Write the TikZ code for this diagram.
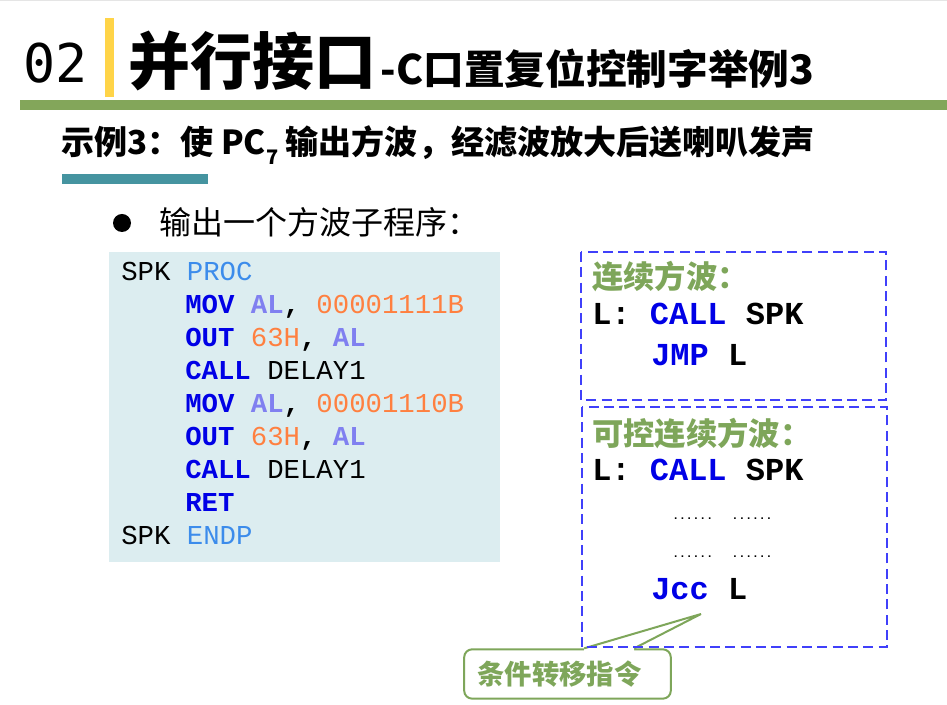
\documentclass[tikz,border=0pt]{standalone}
\usepackage{fontspec}
\setmainfont{Noto Sans CJK SC}
\newfontfamily\codefont{Liberation Mono}
\newfontfamily\numfont{DejaVu Sans Mono}
\usetikzlibrary{positioning,calc}

\definecolor{barGreen}{RGB}{131,166,90}
\definecolor{barTeal}{RGB}{69,148,160}
\definecolor{barYellow}{RGB}{255,212,72}
\definecolor{codeBg}{RGB}{220,237,240}
\definecolor{kwBlue}{RGB}{0,0,230}
\definecolor{regBlue}{RGB}{128,128,240}
\definecolor{numOrange}{RGB}{255,128,64}
\definecolor{dirBlue}{RGB}{60,140,235}
\definecolor{boxBlue}{RGB}{64,64,250}
\definecolor{noteGreen}{RGB}{126,166,90}

\newcommand\ckw[1]{\textcolor{kwBlue}{\bfseries #1}}
\newcommand\creg[1]{\textcolor{regBlue}{\bfseries #1}}
\newcommand\cnum[1]{\textcolor{numOrange}{#1}}
\newcommand\cdir[1]{\textcolor{dirBlue}{#1}}

\tikzset{
  codeline/.style={anchor=base west, inner sep=0, font=\codefont\fontsize{20.5}{20.5}\selectfont},
  boxline/.style={anchor=base west, inner sep=0, font=\codefont\bfseries\fontsize{24}{24}\selectfont},
  dotline/.style={anchor=base west, inner sep=0, font=\codefont\bfseries\fontsize{8.5}{8.5}\selectfont},
  head/.style={anchor=base west, inner sep=0, text=noteGreen, font=\bfseries\fontsize{23.5}{23.5}\selectfont},
  dashbox/.style={draw=boxBlue, line width=1.5pt, dash pattern=on 7.5pt off 4pt},
  callout/.style={draw=noteGreen, line width=1.5pt, fill=white, rounded corners=6pt, text=noteGreen,
    minimum width=155pt, minimum height=37pt, font=\bfseries\fontsize{20.5}{20.5}\selectfont},
}

\begin{document}
\begin{tikzpicture}[x=0.75pt, y=-0.75pt]
  \useasboundingbox (0,0) rectangle (947,705);
  \draw[gray!20, line width=1pt] (0,0.7) -- (947,0.7);

  \node[anchor=base west, inner sep=0, font=\numfont\fontsize{40}{40}\selectfont] (num) at (23,83) {02};
  \fill[barYellow] (105,18) rectangle (114,97);
  \node[anchor=base west, inner sep=0, font=\bfseries\fontsize{46.5}{46.5}\selectfont] (title) at (128,85) {并行接口};
  \node[anchor=base west, inner sep=0, font=\bfseries\fontsize{30.5}{30.5}\selectfont] (titleb) at ($(title.base east)+(4,0)$) {-C口置复位控制字举例3};
  \fill[barGreen] (20,100) rectangle (947,110);

  \node[anchor=base west, inner sep=0, font=\bfseries\fontsize{24.8}{24.8}\selectfont] (sub) at (61,155)
    {示例3：使 PC\raisebox{-0.3em}{\fontsize{15}{15}\selectfont 7} 输出方波，经滤波放大后送喇叭发声};
  \fill[barTeal] (62,174) rectangle (208,184);

  \node[circle, fill=black, minimum size=13.5pt, inner sep=0] (dot) at (122,223) {};
  \node[anchor=base west, inner sep=0, font=\fontsize{24}{24}\selectfont] (item) at (159,235) {输出一个方波子程序：};

  \fill[codeBg] (109,252) rectangle (500,562);
  \node[codeline] (c1) at (121,281) {SPK \cdir{PROC}};
  \node[codeline] (c2) at (185,314) {\ckw{MOV} \creg{AL}\textbf{,} \cnum{00001111B}};
  \node[codeline] (c3) at (185,347) {\ckw{OUT} \cnum{63H}\textbf{,} \creg{AL}};
  \node[codeline] (c4) at (185,380) {\ckw{CALL} DELAY1};
  \node[codeline] (c5) at (185,413) {\ckw{MOV} \creg{AL}\textbf{,} \cnum{00001110B}};
  \node[codeline] (c6) at (185,446) {\ckw{OUT} \cnum{63H}\textbf{,} \creg{AL}};
  \node[codeline] (c7) at (185,479) {\ckw{CALL} DELAY1};
  \node[codeline] (c8) at (185,512) {\ckw{RET}};
  \node[codeline] (c9) at (121,545) {SPK \cdir{ENDP}};

  \node[callout] (cond) at (567.5,674) {条件转移指令\kern12pt};
  \coordinate (tip) at (701,614);
  \coordinate (wa) at ($(cond.north west)+(121,0)$);
  \coordinate (wb) at ($(cond.north west)+(171,0)$);
  \fill[white] (wa) -- (tip) -- (wb) -- ($(wb)+(0,3)$) -- ($(wa)+(0,3)$) -- cycle;
  \draw[noteGreen, line width=1.5pt] (wa) -- (tip) -- (wb);

  \draw[dashbox] (581,252) rectangle (886,400);
  \node[head] (h1) at (592,289) {连续方波：};
  \node[boxline] (l1) at (592,325) {L: \textcolor{kwBlue}{CALL} SPK};
  \node[boxline] (l2) at (651,366) {\textcolor{kwBlue}{JMP} L};

  \draw[dashbox] (582,407) rectangle (887,647);
  \node[head] (h2) at (592,446) {可控连续方波：};
  \node[boxline] (l3) at (592,481) {L: \textcolor{kwBlue}{CALL} SPK};
  \node[dotline] (d1) at (672,520) {......\hspace{14pt}......};
  \node[dotline] (d2) at (672,558) {......\hspace{14pt}......};
  \node[boxline] (l4) at (651,600) {\textcolor{kwBlue}{Jcc} L};
\end{tikzpicture}
\end{document}
